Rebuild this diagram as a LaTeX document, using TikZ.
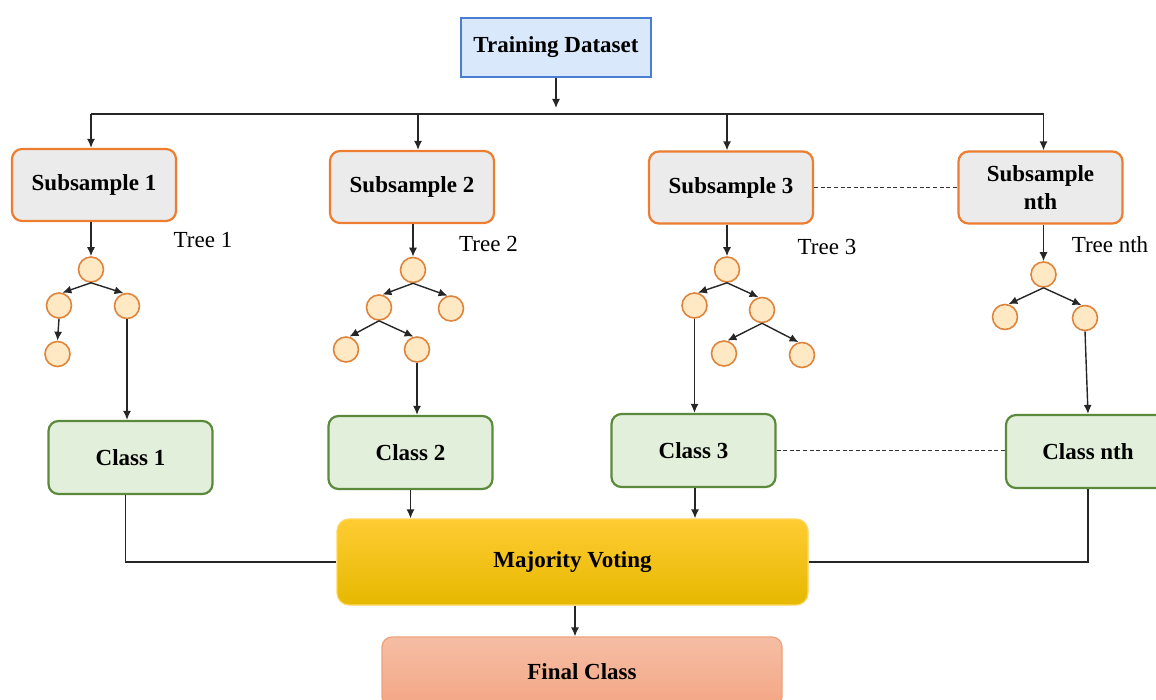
\documentclass[tikz,border=0pt]{standalone}
\usepackage{fontspec}
\setmainfont{Liberation Serif}
\usepackage{tikz}
\usetikzlibrary{arrows.meta}
\definecolor{dsfill}{RGB}{218,232,252}
\definecolor{dsline}{RGB}{74,126,208}
\definecolor{ssfill}{RGB}{235,235,235}
\definecolor{ssline}{RGB}{237,125,49}
\definecolor{tnfill}{RGB}{255,233,196}
\definecolor{tnline}{RGB}{222,132,60}
\definecolor{clfill}{RGB}{226,239,218}
\definecolor{clline}{RGB}{92,138,60}
\definecolor{mvtop}{RGB}{255,204,51}
\definecolor{mvmid}{RGB}{255,198,0}
\definecolor{mvbot}{RGB}{230,184,0}
\definecolor{mvline}{RGB}{255,214,90}
\definecolor{fctop}{RGB}{245,190,165}
\definecolor{fcbot}{RGB}{244,166,132}
\definecolor{fcline}{RGB}{240,160,120}
\tikzset{
  rbox/.style={font=\fontsize{11.5}{14}\selectfont\bfseries,align=center,inner sep=0pt},
  dsbox/.style={rbox,draw=dsline,fill=dsfill,line width=1pt,minimum width=95pt,minimum height=29.5pt},
  ssbox/.style={rbox,draw=ssline,fill=ssfill,line width=1.1pt,rounded corners=5pt,minimum width=82pt,minimum height=36pt},
  clbox/.style={rbox,draw=clline,fill=clfill,line width=1.1pt,rounded corners=5pt,minimum width=82pt,minimum height=36.5pt},
  mvbox/.style={rbox,draw=mvline,top color=mvtop,middle color=mvmid,bottom color=mvbot,line width=0.6pt,rounded corners=6pt,minimum width=235.5pt,minimum height=43pt},
  fcbox/.style={rbox,draw=fcline,top color=fctop,bottom color=fcbot,line width=0.6pt,rounded corners=5pt,minimum width=200pt,minimum height=35pt},
  tnode/.style={circle,draw=tnline,fill=tnfill,line width=0.8pt,minimum size=12.5pt,inner sep=0pt},
  tlabel/.style={font=\fontsize{11.5}{14}\selectfont},
  jarrow/.style={black!85,line width=0.7pt,-{Latex[length=4.5pt,width=4pt]}},
  jline/.style={black!85,line width=0.7pt},
  jdash/.style={black!80,line width=0.5pt,dash pattern=on 2pt off 1.3pt},
}
\begin{document}
\begin{tikzpicture}[x=0.5pt,y=-0.5pt]
  \useasboundingbox (0,0) rectangle (1156,700);
  \clip (0,0) rectangle (1156,700);
  % ---- dataset and subsamples ----
  \node[dsbox] (data) at (556,47.5) {Training Dataset};
  \coordinate (split) at (556,114);
  \node[ssbox] (s1) at (94,185) {Subsample 1};
  \node[ssbox] (s2) at (412,187) {Subsample 2};
  \node[ssbox] (s3) at (731,187.5) {Subsample 3};
  \node[ssbox] (sn) at (1040.5,187.5) {Subsample\\nth};
  \draw[jarrow] (data.south) -- ([yshift=3pt]split);
  \draw[jline] ([xshift=-1.5pt]s1.north |- split) -- ([xshift=1.5pt]sn.north |- split);
  \foreach \s/\dx in {s1/-1.5pt,s2/3pt,s3/-2pt,sn/1.5pt}
    \draw[jarrow] ([xshift=\dx]\s.north |- split) -- ([xshift=\dx]\s.north);
  \draw[jdash] (s3.east) -- (sn.west);
  % ---- tree labels ----
  \node[tlabel] (l1) at (203,240) {Tree 1};
  \node[tlabel] (l2) at (488.5,244) {Tree 2};
  \node[tlabel] (l3) at (827,247) {Tree 3};
  \node[tlabel] (ln) at (1110,245) {Tree nth};
  % ---- classes and voting ----
  \node[clbox] (c1) at (130.5,457.5) {Class 1};
  \node[clbox] (c2) at (410.5,452.5) {Class 2};
  \node[clbox] (c3) at (693.5,450.5) {Class 3};
  \node[clbox] (cn) at (1088,451.5) {Class nth};
  \node[mvbox] (mv) at (572.5,562) {Majority Voting};
  \node[fcbox] (fin) at (582,672) {Final Class};
  % ---- tree 1 ----
  \node[tnode] (t1r) at (91,269.5) {};
  \node[tnode] (t1a) at (59,305.5) {};
  \node[tnode] (t1b) at (127,306) {};
  \node[tnode] (t1c) at (57.5,354) {};
  \draw[jarrow] (s1.south -| t1r) -- (t1r.north);
  \draw[jarrow] (t1r.south) -- (t1a.75);
  \draw[jarrow] (t1r.south) -- (t1b.105);
  \draw[jarrow] (t1a.south) -- (t1c.north);
  \draw[jarrow] (t1b.south) -- (t1b.south |- c1.north);
  % ---- tree 2 ----
  \node[tnode] (t2r) at (413,270) {};
  \node[tnode] (t2a) at (379,307.5) {};
  \node[tnode] (t2b) at (451,308.5) {};
  \node[tnode] (t2c) at (346,349.5) {};
  \node[tnode] (t2d) at (417,349.5) {};
  \draw[jarrow] (s2.south -| t2r) -- (t2r.north);
  \draw[jarrow] (t2r.south) -- (t2a.75);
  \draw[jarrow] (t2r.south) -- (t2b.105);
  \draw[jarrow] (t2a.south) -- (t2c.75);
  \draw[jarrow] (t2a.south) -- (t2d.105);
  \draw[jarrow] (t2d.south) -- (t2d.south |- c2.north);
  % ---- tree 3 ----
  \node[tnode] (t3r) at (727,269.5) {};
  \node[tnode] (t3a) at (694.5,305.5) {};
  \node[tnode] (t3b) at (762,310) {};
  \node[tnode] (t3c) at (724,353.5) {};
  \node[tnode] (t3d) at (802,355) {};
  \draw[jarrow] (s3.south -| t3r) -- (t3r.north);
  \draw[jarrow] (t3r.south) -- (t3a.75);
  \draw[jarrow] (t3r.south) -- (t3b.105);
  \draw[jarrow] (t3b.south) -- (t3c.75);
  \draw[jarrow] (t3b.south) -- (t3d.105);
  \draw[jarrow] (t3a.south) -- (t3a.south |- c3.north);
  % ---- tree nth ----
  \node[tnode] (tnr) at (1043.5,274.5) {};
  \node[tnode] (tna) at (1005,317) {};
  \node[tnode] (tnb) at (1085,318) {};
  \draw[jarrow] (sn.south -| tnr) -- (tnr.north);
  \draw[jarrow] (tnr.south) -- (tna.75);
  \draw[jarrow] (tnr.south) -- (tnb.105);
  \draw[jarrow] (tnb.south) -- (cn.north);
  % ---- into the vote ----
  \draw[jdash] (c3.east) -- (c3.east -| cn.west);
  \draw[jarrow] (c2.south) -- (c2.south |- mv.north);
  \draw[jarrow] ([xshift=0.75pt]c3.south) -- ([xshift=0.75pt]c3.south |- mv.north);
  \draw[jline] ([xshift=-2.5pt]c1.south) |- (mv.west);
  \draw[jline] (cn.south) |- (mv.east);
  \draw[jarrow] ([xshift=1.25pt]mv.south) -- ([xshift=1.25pt]mv.south |- fin.north);
\end{tikzpicture}
\end{document}
